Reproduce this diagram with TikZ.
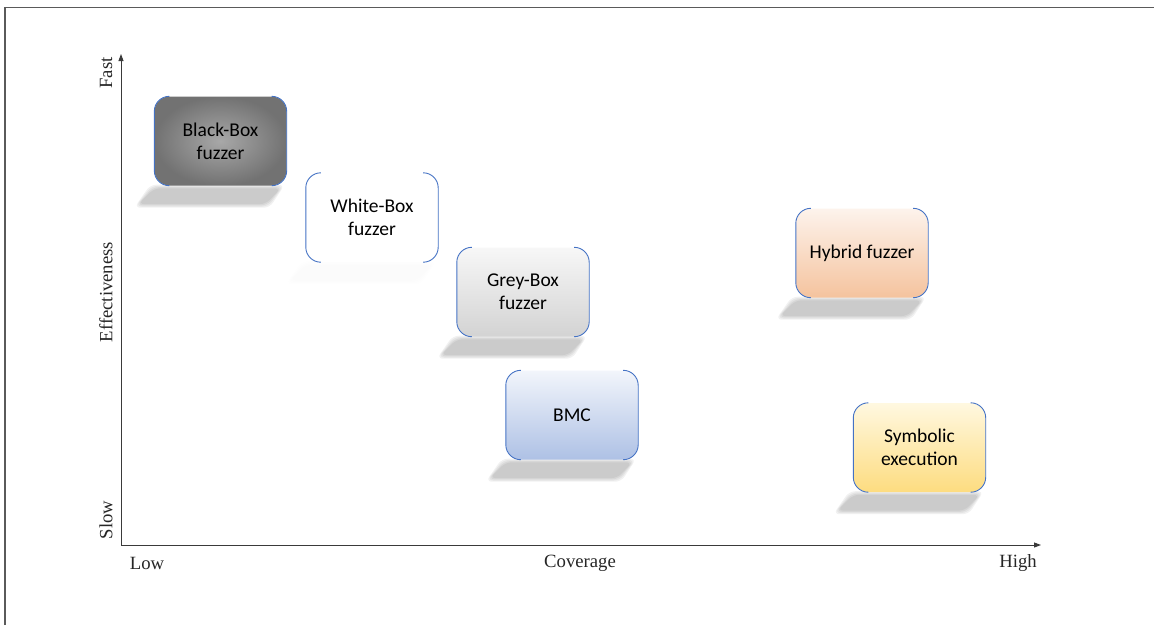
\documentclass[tikz,border=0pt]{standalone}
\usepackage{fontspec}
\setmainfont{Liberation Serif}
\newfontfamily\boxfam{Carlito}
\usetikzlibrary{arrows.meta,calc,backgrounds}

\definecolor{rimblue}{HTML}{4472C4}
\definecolor{axisgray}{HTML}{3A3A3A}
\definecolor{framegray}{HTML}{5A5A5A}
\definecolor{bbin}{HTML}{A8A8A8}
\definecolor{bbout}{HTML}{727272}
\definecolor{gbtop}{HTML}{F7F7F7}
\definecolor{gbbot}{HTML}{D3D3D3}
\definecolor{bmctop}{HTML}{F2F5FB}
\definecolor{bmcbot}{HTML}{AEC1E5}
\definecolor{hytop}{HTML}{FDF3EC}
\definecolor{hybot}{HTML}{F5C39E}
\definecolor{sytop}{HTML}{FFF8E0}
\definecolor{sybot}{HTML}{FDDC80}

\tikzset{
  box/.style={rectangle, rounded corners=15pt, minimum width=132pt,
    minimum height=89pt, inner sep=0pt, align=center,
    font=\boxfam\fontsize{19.5}{23}\selectfont, text=black},
  rim/.style={draw=rimblue, line width=0.9pt, rounded corners=15pt},
  axisline/.style={draw=axisgray, line width=0.9pt,
    -{Triangle[length=7pt,width=5pt]}},
  axlabel/.style={font=\fontsize{18.7}{22}\selectfont, text=black!85,
    inner sep=0pt},
  shadowlayer/.style={fill=black, opacity=#1, rounded corners=6pt}
}

\begin{document}
\begin{tikzpicture}[x=1pt,y=-1pt]
  \useasboundingbox (0,0) rectangle (1154,625);

  % outer frame (top and left edges)
  \draw[framegray, line width=1.4pt] (5,625) -- (5,7.5) -- (1154,7.5);

  % axes
  \coordinate (origin) at (121,545);
  \coordinate (ytip) at (121,54);
  \coordinate (xtip) at (1041,545);
  \draw[axisline] (origin) -- (ytip);
  \draw[axisline] (origin) -- (xtip);

  \node[axlabel] (low) at (147,563) {Low};
  \node[axlabel] (cov) at (580,563) {Coverage};
  \node[axlabel] (high) at (1018,563) {High};
  \node[axlabel, rotate=90] (fast) at (106,73) {Fast};
  \node[axlabel, rotate=90] (eff) at (106,292) {Effectiveness};
  \node[axlabel, rotate=90] (slow) at (106,520) {Slow};

  % fuzzing techniques
  \node[box, inner color=bbin, outer color=bbout] (bb) at (220.5,141) {Black-Box\\fuzzer};
  \node[box, fill=white] (wb) at (372,217.5) {White-Box\\fuzzer};
  \node[box, top color=gbtop, bottom color=gbbot] (gb) at (523,292) {Grey-Box\\fuzzer};
  \node[box, top color=bmctop, bottom color=bmcbot] (bmc) at (572,415) {BMC};
  \node[box, top color=hytop, bottom color=hybot] (hy) at (862,253) {Hybrid fuzzer};
  \node[box, top color=sytop, bottom color=sybot] (sy) at (919.5,447.5) {Symbolic\\execution};

  % side rims of each box
  \foreach \n in {bb,wb,gb,bmc,hy,sy}{
    \draw[rim] ($(\n.north west)+(15,0)$) -- (\n.north west) -- (\n.south west) -- ($(\n.south west)+(15,0)$);
    \draw[rim] ($(\n.north east)+(-15,0)$) -- (\n.north east) -- (\n.south east) -- ($(\n.south east)+(-15,0)$);
  }

  % soft perspective shadows beneath the boxes
  \begin{scope}[on background layer]
    \foreach \n/\op in {bb/0.055,gb/0.055,bmc/0.055,hy/0.055,sy/0.055,wb/0.004}{
      \foreach \k in {0,...,3}{
        \fill[shadowlayer=\op]
          ($(\n.south west)+(-4+1.3*\k,-1+1.2*\k)$) --
          ($(\n.south east)+(-2-1.3*\k,-1+1.2*\k)$) --
          ($(\n.south east)+(-17-1.3*\k,22-1.2*\k)$) --
          ($(\n.south west)+(-20+1.3*\k,22-1.2*\k)$) -- cycle;
      }
    }
  \end{scope}
\end{tikzpicture}
\end{document}
